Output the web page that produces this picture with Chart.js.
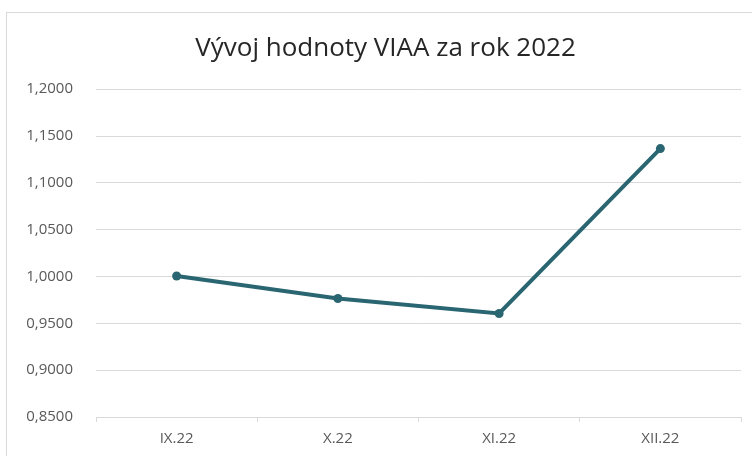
<!DOCTYPE html>
<html>
<head>
<meta charset="utf-8">
<script src="https://cdn.jsdelivr.net/npm/chart.js@4"></script>
<style>
  html, body { margin: 0; padding: 0; background: #fff; }
  #wrap { position: relative; width: 752px; height: 456px; overflow: hidden; }
  #frame { position: absolute; left: 6px; top: 12px; width: 800px; height: 500px; border: 1px solid #d9d9d9; }
  #chart { position: absolute; left: 0; top: 0; }
</style>
</head>
<body>
<div id="wrap">
  <div id="frame"></div>
  <canvas id="chart" width="752" height="456"></canvas>
</div>
<script>
// data
const months = ['IX.22', 'X.22', 'XI.22', 'XII.22'];
const viaaValues = [1.0005, 0.9765, 0.9605, 1.1366];
const yMin = 0.85;
const yMax = 1.20;
const yStep = 0.05;
const chartTitle = 'Vývoj hodnoty VIAA za rok 2022';

const lineColor = '#2a6671';
const gridColor = '#d9d9d9';
const labelColor = '#595959';
const fontFamily = '"Open Sans", sans-serif';

// title in the original is centred on the frame, not the canvas
const titleShift = {
  id: 'titleShift',
  afterLayout(chart) {
    if (chart.titleBlock) chart.titleBlock.left += 30;
  }
};

new Chart(document.getElementById('chart'), {
  type: 'line',
  data: {
    labels: months,
    datasets: [{
      data: viaaValues,
      borderColor: lineColor,
      backgroundColor: lineColor,
      borderWidth: 4,
      pointRadius: 4.5,
      pointHoverRadius: 4.5,
      pointBorderWidth: 0,
      tension: 0
    }]
  },
  options: {
    responsive: false,
    animation: false,
    layout: { padding: { left: 0, right: 11, top: 0, bottom: 0 } },
    plugins: {
      legend: { display: false },
      tooltip: { enabled: false },
      title: {
        display: true,
        text: chartTitle,
        color: '#262626',
        font: { family: fontFamily, size: 26, weight: 'normal' },
        padding: { top: 33, bottom: 25 }
      }
    },
    scales: {
      x: {
        offset: true,
        afterFit: s => { s.height = 39; },
        grid: {
          offset: true,
          drawOnChartArea: false,
          drawTicks: true,
          tickLength: 5,
          color: gridColor
        },
        border: { display: true, color: gridColor },
        ticks: {
          color: labelColor,
          padding: 8,
          font: { family: fontFamily, size: 15 }
        }
      },
      y: {
        min: yMin,
        max: yMax,
        afterFit: s => { s.width = 96; },
        grid: { color: gridColor, drawTicks: false },
        border: { display: false },
        ticks: {
          stepSize: yStep,
          color: labelColor,
          padding: 23,
          font: { family: fontFamily, size: 15 },
          callback: v => v.toFixed(4).replace('.', ',')
        }
      }
    }
  },
  plugins: [titleShift]
});
</script>
</body>
</html>
